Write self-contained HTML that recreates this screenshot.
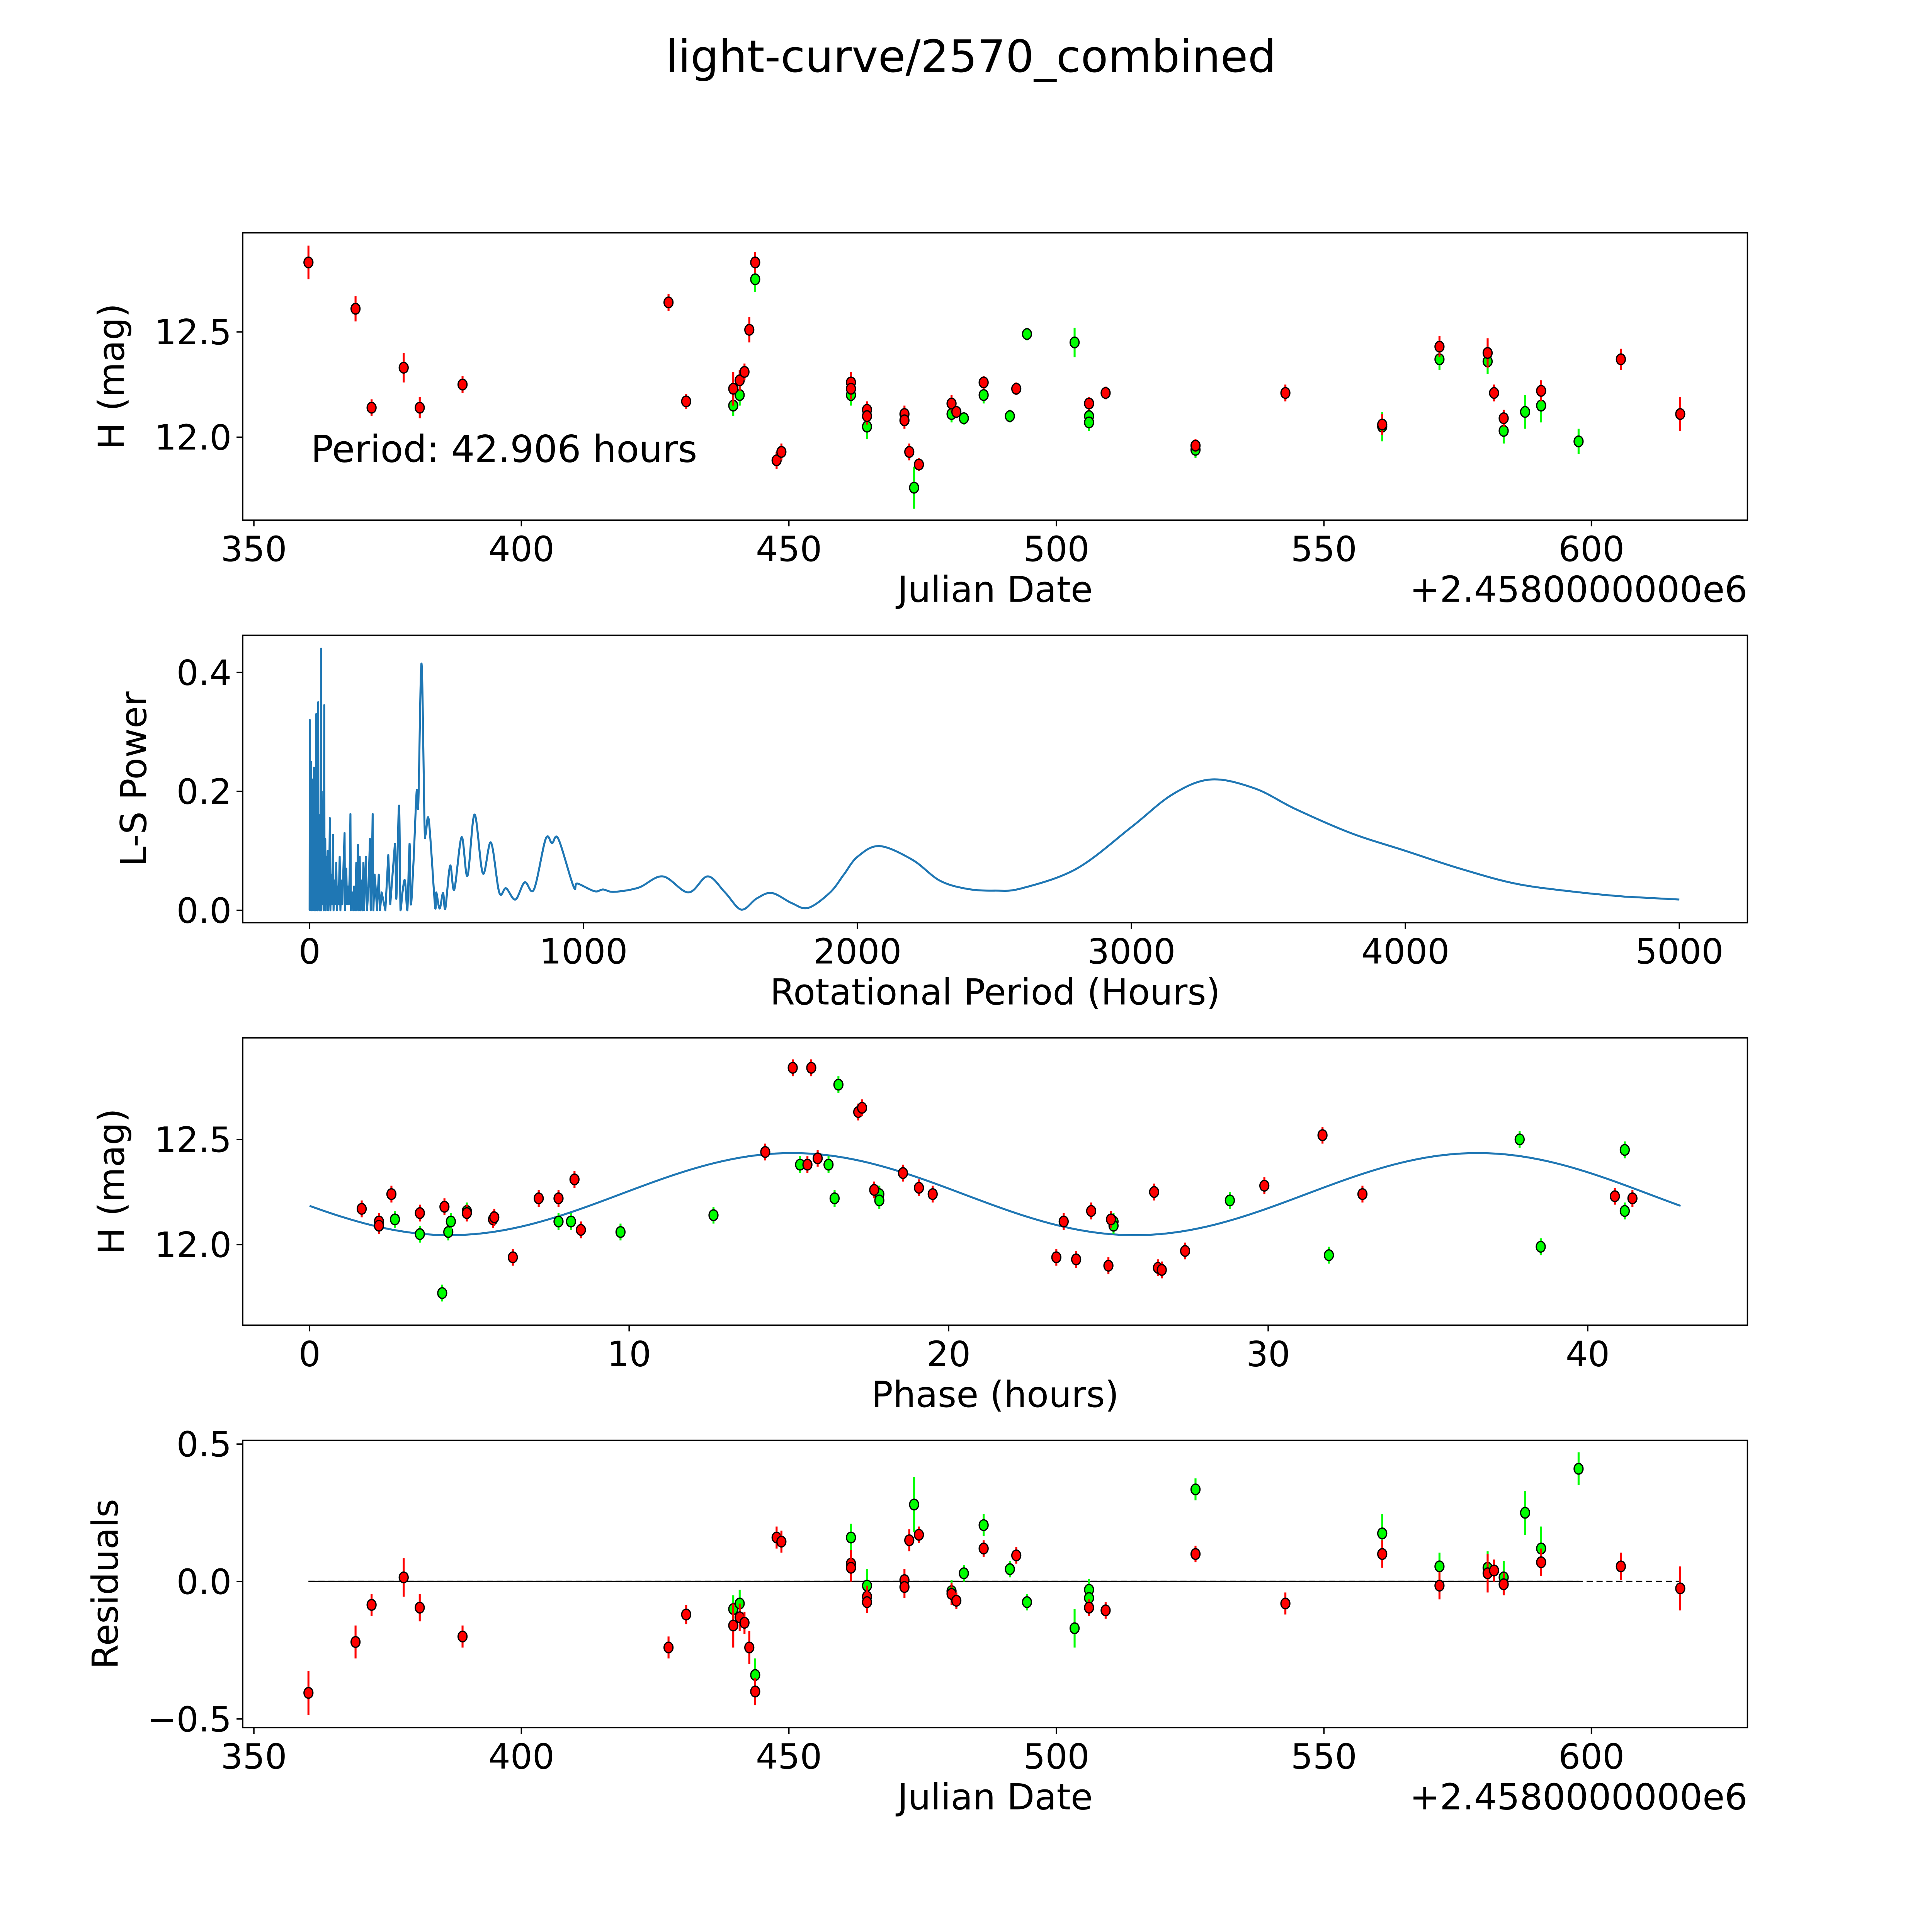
<!DOCTYPE html>
<html><head><meta charset="utf-8"><style>
html,body{margin:0;padding:0;background:#fff;overflow:hidden;width:100vw;height:100vh}
svg{display:block;width:100vw;height:100vh}
text{font-family:"DejaVu Sans","Liberation Sans",sans-serif;fill:#000}
</style></head><body>
<svg id="fig" xmlns="http://www.w3.org/2000/svg" viewBox="0 0 1560 1560" preserveAspectRatio="xMidYMid meet">
<rect x="0" y="0" width="1560" height="1560" fill="#fff"/>
<text x="784" y="58" font-size="36" text-anchor="middle">light-curve/2570_combined</text>
</svg>
<script>
// ---- data: panel 1 (light curve vs Julian date) ----
const redJD=[360.2,369,372,378,381,389,427.5,430.8,439.6,440.8,441.7,442.6,443.7,447.7,448.6,461.6,461.6,464.6,464.6,471.6,471.6,472.5,474.3,480.4,481.3,486.4,492.5,506.1,509.2,526,542.8,560.9,571.6,580.6,581.8,583.6,590.6,605.5,616.6];
const redMag=[12.83,12.61,12.14,12.33,12.14,12.25,12.64,12.17,12.23,12.27,12.31,12.51,12.83,11.89,11.93,12.26,12.23,12.13,12.10,12.11,12.08,11.93,11.87,12.16,12.12,12.26,12.23,12.16,12.21,11.96,12.21,12.06,12.43,12.40,12.21,12.09,12.22,12.37,12.11];
const redErr=[0.08,0.06,0.04,0.07,0.05,0.04,0.04,0.035,0.08,0.05,0.04,0.06,0.05,0.04,0.04,0.05,0.05,0.04,0.04,0.04,0.04,0.04,0.03,0.04,0.03,0.03,0.03,0.03,0.03,0.03,0.04,0.05,0.05,0.07,0.04,0.04,0.05,0.05,0.08];
const greenJD=[439.6,440.8,443.7,461.6,464.6,473.4,480.4,482.7,486.4,491.3,494.5,503.4,506.1,506.1,526,560.9,571.6,580.6,583.6,587.6,590.6,597.6];
const greenMag=[12.15,12.20,12.75,12.20,12.05,11.76,12.11,12.09,12.20,12.10,12.49,12.45,12.10,12.07,11.94,12.05,12.37,12.36,12.03,12.12,12.15,11.98];
const greenErr=[0.05,0.05,0.06,0.05,0.06,0.1,0.04,0.03,0.04,0.03,0.03,0.07,0.04,0.04,0.04,0.07,0.05,0.06,0.06,0.08,0.08,0.06];
// ---- panel 2 (Lomb-Scargle periodogram) ----
const lsPeriod=[0,0.9,1.8,2.7,3.6,5.4,6.2,8,8.9,10.7,11.6,13.4,14.3,16.1,16.9,18.7,19.6,21.4,22.3,24.1,25,27.7,28.5,31.2,32.1,34.8,35.7,38.4,39.2,41.9,42.8,45.5,47.3,50,51.7,53.5,54.4,57.1,58.9,61.5,63.3,66,67.8,71.4,74,75.8,78.5,81.2,85.6,87.4,91,93.7,97.2,99.9,103.5,106.1,109.7,112.4,116,119.5,124,127.6,129.3,133.8,136.5,140,142.7,146.3,149,150.7,155.2,158.8,162.3,165.9,170.4,172.2,176.6,179.3,182.9,185.5,189.1,192.7,196.2,198.9,205.2,209.6,215,220.3,223,226.6,230.1,232.8,237.3,240.8,246.2,252.4,256.9,263.1,276.5,287.2,294.4,311.3,316.7,326.5,331.8,339,347.9,356.8,364.8,369.3,379.1,390.7,396.9,408.5,419.2,423.7,435.3,458.5,462.1,474.5,487,495.1,512.9,528.1,554.8,576.2,602.1,632.4,661.9,692.2,717.2,751.1,785,818.9,861.7,884.9,908,963.4,977.6,1040,1071.3,1110.5,1200.6,1288.9,1382.6,1453.1,1516.4,1576.2,1632.4,1687.7,1760,1820,1900,1950,2000,2080,2200,2300,2400,2500,2600,2800,3000,3150,3290,3450,3600,3800,4000,4200,4400,4600,4800,5000];
const lsPower=[0,0.32,0,0.2,0.02,0.25,0,0.18,0.02,0.22,0,0.17,0.05,0.24,0,0.15,0.03,0.23,0,0.33,0.05,0.15,0,0.35,0.02,0.16,0,0.15,0,0.44,0,0.12,0.01,0.2,0,0.345,0.01,0.12,0,0.09,0.01,0.1,0,0.05,0.155,0,0.06,0.01,0.127,0,0.05,0.01,0.08,0,0.04,0.01,0.09,0,0.05,0.01,0.08,0.13,0,0.07,0.01,0.04,0.01,0.06,0.162,0,0.03,0,0.04,0,0.08,0,0.11,0,0.09,0,0.05,0,0.08,0,0.09,0,0.04,0.12,0,0.05,0.162,0,0.06,0.04,0,0.06,0,0.03,0,0.093,0.01,0.112,0.02,0.176,0,0.03,0.05,0,0.112,0.01,0.08,0.2,0.18,0.415,0.15,0.128,0.151,0.003,0.03,0.003,0.029,0.002,0.075,0.035,0.123,0.058,0.161,0.062,0.114,0.03,0.037,0.018,0.047,0.035,0.12,0.113,0.12,0.04,0.045,0.032,0.035,0.031,0.038,0.057,0.03,0.057,0.03,0.001,0.02,0.029,0.012,0.004,0.03,0.06,0.09,0.108,0.085,0.05,0.036,0.033,0.037,0.07,0.14,0.195,0.22,0.205,0.17,0.13,0.1,0.07,0.045,0.032,0.023,0.018];
// ---- panel 3 (phase-folded) ----
const redPhase=[1.63,2.17,2.17,2.56,3.45,4.22,4.92,5.74,5.78,6.36,7.17,7.79,8.29,8.49,14.26,15.12,15.58,15.7,15.9,17.17,17.29,17.67,18.57,19.07,19.5,23.37,23.6,23.99,24.46,25.0,25.08,26.43,26.55,26.67,27.4,29.88,31.7,32.95,40.85,41.4];
const redPhaseMag=[12.17,12.11,12.09,12.24,12.15,12.18,12.15,12.12,12.13,11.94,12.22,12.22,12.31,12.07,12.44,12.84,12.38,12.84,12.41,12.63,12.65,12.26,12.34,12.27,12.24,11.94,12.11,11.93,12.16,11.90,12.12,12.25,11.89,11.88,11.97,12.28,12.52,12.24,12.23,12.22];
const greenPhase=[2.67,3.45,4.15,4.34,4.42,4.92,7.79,8.18,9.73,12.64,15.35,16.24,16.43,16.55,17.83,17.83,25.16,25.16,28.8,31.9,37.87,38.53,41.16,41.16];
const greenPhaseMag=[12.12,12.05,11.77,12.06,12.11,12.16,12.11,12.11,12.06,12.14,12.38,12.38,12.22,12.76,12.24,12.21,12.11,12.09,12.21,11.95,12.50,11.99,12.45,12.16];
const fitParams=[12.24,0.195,21.453,15.1]; // mean, amplitude, half-period (hours), peak phase
const fitPeriod=[42.906];
// ---- panel 4 (residuals) ----
const redRes=[-0.405,-0.22,-0.085,0.015,-0.095,-0.2,-0.24,-0.12,-0.16,-0.13,-0.15,-0.24,-0.40,0.16,0.145,0.065,0.05,-0.055,-0.075,0.005,-0.02,0.15,0.17,-0.045,-0.07,0.12,0.095,-0.095,-0.105,0.1,-0.08,0.1,-0.015,0.03,0.04,-0.01,0.07,0.055,-0.025];
const greenRes=[-0.1,-0.08,-0.34,0.16,-0.015,0.28,-0.035,0.03,0.205,0.045,-0.075,-0.17,-0.03,-0.06,0.335,0.175,0.055,0.05,0.015,0.25,0.12,0.41];
// ---- ticks ----
const jdTicks=[350,400,450,500,550,600];
const magTicks=[12.0,12.5];
const lsXTicks=[0,1000,2000,3000,4000,5000];
const lsYTicks=[0.0,0.2,0.4];
const phaseTicks=[0,10,20,30,40];
const resTicks=[-0.5,0.0,0.5];

const NS='http://www.w3.org/2000/svg';
const svg=document.getElementById('fig');
function mk(tag,attrs,parent){const e=document.createElementNS(NS,tag);for(const k in attrs)e.setAttribute(k,attrs[k]);(parent||svg).appendChild(e);return e;}
const L=196,R=1411;
const TF=28,LF=29;
function lin(d0,d1,r0,r1){return v=>r0+(v-d0)*(r1-r0)/(d1-d0);}

function axes(top,bot,xs,ys,xt,yt,xfmt,yfmt,xlab,ylab,ylabX,offset,name){
  const g=mk('g',{});
  
  
  xt.forEach(v=>{const x=xs(v);
    const t=mk('line',{x1:x,x2:x,y1:bot,y2:bot+5,stroke:'#000','stroke-width':1.1},g);
    
    
    const tx=mk('text',{x:x,y:bot+33,'font-size':TF,'text-anchor':'middle'},g);tx.textContent=xfmt(v);
    
    });
  yt.forEach(v=>{const y=ys(v);
    const t=mk('line',{x1:L-5,x2:L,y1:y,y2:y,stroke:'#000','stroke-width':1.1},g);
    
    
    const tx=mk('text',{x:L-9,y:y+10,'font-size':TF,'text-anchor':'end'},g);tx.textContent=yfmt(v);
    
    });
  const xl=mk('text',{x:(L+R)/2,y:bot+66,'font-size':LF,'text-anchor':'middle'},g);xl.textContent=xlab;
  
  
  const cy=(top+bot)/2;
  const yl=mk('text',{x:ylabX,y:cy,'font-size':LF,'text-anchor':'middle',transform:`rotate(-90 ${ylabX} ${cy})`},g);yl.textContent=ylab;
  
  
  if(offset){const o=mk('text',{x:R,y:bot+66,'font-size':LF,'text-anchor':'end'},g);o.textContent=offset;
    
    }
  return g;
}
function frame(top,bot){const f=mk('rect',{x:L,y:top,width:R-L,height:bot-top,fill:'none',stroke:'#000','stroke-width':1.1});
  
  }
function points(xsArr,ysArr,errArr,xs,ys,color,name){
  const g=mk('g',{});
  
  
  xsArr.forEach((v,i)=>{const x=xs(v),y=ys(ysArr[i]);const e=errArr?errArr[i]:0.04;
    const b=mk('line',{x1:x,x2:x,y1:ys(ysArr[i]-e),y2:ys(ysArr[i]+e),stroke:color,'stroke-width':1.6},g);
    
    
    const c=mk('ellipse',{cx:x,cy:y,rx:3.6,ry:4.3,fill:color,stroke:'#000','stroke-width':1},g);
    
    });
}
const fmt1=v=>v.toFixed(1).replace('-','\u2212');
const fmt0=v=>String(v);

// Panel 1
{const top=188,bot=420;const xs=lin(400,450,421,637),ys=lin(12.0,12.5,353,268);
 axes(top,bot,xs,ys,jdTicks,magTicks,fmt0,fmt1,'Julian Date','H (mag)',100,'+2.4580000000e6','light-curve-panel');
 points(greenJD,greenMag,greenErr,xs,ys,'#00ff00','green-series');
 points(redJD,redMag,redErr,xs,ys,'#ff0000','red-series');
 const t=mk('text',{x:251,y:373,'font-size':30});t.textContent='Period: 42.906 hours';
 
 
 frame(top,bot);}
// Panel 2
{const top=513,bot=745;const xs=lin(0,1000,250,471.2),ys=lin(0,0.4,735,543);
 axes(top,bot,xs,ys,lsXTicks,lsYTicks,fmt0,fmt1,'Rotational Period (Hours)','L-S Power',118,null,'periodogram-panel');
 const P=lsPeriod.map((p,i)=>[xs(p),ys(lsPower[i])]);
 let d='M'+P[0][0].toFixed(2)+' '+P[0][1].toFixed(2);
 for(let i=1;i<P.length;i++){
   if(lsPeriod[i-1]<300||i<2||i>=P.length-1){d+=' L'+P[i][0].toFixed(2)+' '+P[i][1].toFixed(2);continue;}
   const p0=P[i-2],p1=P[i-1],p2=P[i],p3=P[i+1];
   const c1=[p1[0]+(p2[0]-p0[0])/6,p1[1]+(p2[1]-p0[1])/6],c2=[p2[0]-(p3[0]-p1[0])/6,p2[1]-(p3[1]-p1[1])/6];
   d+=` C${c1[0].toFixed(2)} ${Math.min(c1[1],735).toFixed(2)} ${c2[0].toFixed(2)} ${Math.min(c2[1],735).toFixed(2)} ${p2[0].toFixed(2)} ${p2[1].toFixed(2)}`;
 }
 const p=mk('path',{d:d,fill:'none',stroke:'#1f77b4','stroke-width':1.6,'stroke-linejoin':'round'});
 
 
 frame(top,bot);}
// Panel 3
{const top=838,bot=1070;const xs=lin(0,10,250,508),ys=lin(12.0,12.5,1005,920);
 axes(top,bot,xs,ys,phaseTicks,magTicks,fmt0,fmt1,'Phase (hours)','H (mag)',100,null,'phase-panel');
 const pts=[];for(let i=0;i<=200;i++){const t=fitPeriod[0]*i/200;
   const m=fitParams[0]+fitParams[1]*Math.cos(2*Math.PI*(t-fitParams[3])/fitParams[2]);pts.push((i?'L':'M')+xs(t).toFixed(2)+' '+ys(m).toFixed(2));}
 const f=mk('path',{d:pts.join(' '),fill:'none',stroke:'#1f77b4','stroke-width':1.6});
 
 
 points(greenPhase,greenPhaseMag,null,xs,ys,'#00ff00','green-phase-series');
 points(redPhase,redPhaseMag,null,xs,ys,'#ff0000','red-phase-series');
 frame(top,bot);}
// Panel 4
{const top=1163,bot=1395;const xs=lin(400,450,421,637),ys=lin(0,0.5,1277,1166);
 axes(top,bot,xs,ys,jdTicks,resTicks,fmt0,fmt1,'Julian Date','Residuals',95,'+2.4580000000e6','residuals-panel');
 const z1=mk('line',{x1:xs(redJD[0]),x2:xs(redJD[redJD.length-1]),y1:ys(0),y2:ys(0),stroke:'#000','stroke-width':1.3,'stroke-dasharray':'5 3'});
 
 
 const z2=mk('line',{x1:xs(redJD[0]),x2:xs(greenJD[greenJD.length-1]),y1:ys(0),y2:ys(0),stroke:'#000','stroke-width':1.3});
 
 
 points(greenJD,greenRes,greenErr,xs,ys,'#00ff00','green-residuals');
 points(redJD,redRes,redErr,xs,ys,'#ff0000','red-residuals');
 frame(top,bot);}
</script>
</body></html>
